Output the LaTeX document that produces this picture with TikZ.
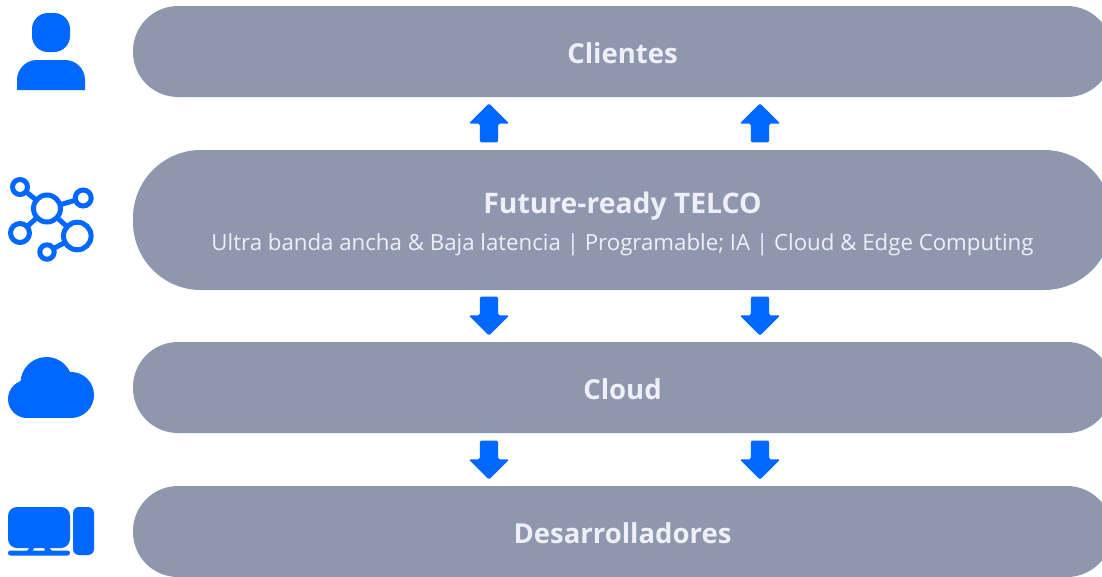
\documentclass[tikz,border=0pt]{standalone}
\usepackage{fontspec}
\setmainfont{Open Sans}
\usetikzlibrary{shapes.arrows}

\definecolor{pillgray}{HTML}{8F97AF}
\definecolor{iconblue}{HTML}{0068FF}
\definecolor{pilltext}{HTML}{EEF0F7}

\tikzset{
	pill/.style = {fill = pillgray, text = pilltext, minimum width = 979, inner sep = 0,
		font = \fontsize{27.5}{30}\selectfont\bfseries, text height = 23, text depth = 0},
	subtitle/.style = {text = pilltext, inner sep = 0, font = \fontsize{22.25}{26}\selectfont},
	blockarrow/.style = {single arrow, fill = iconblue, inner sep = 9, minimum height = 39,
		single arrow head extend = 11, single arrow tip angle = 90, rounded corners = 1.5},
	blockup/.style = {blockarrow, shape border rotate = 90},
	blockdown/.style = {blockarrow, shape border rotate = 270},
	ring/.style = {draw = iconblue, fill = white}
}

\begin{document}
\begin{tikzpicture}[x = 1pt, y = -1pt]

	\clip (0, 0) rectangle (1102, 576);

	% Layers

	\node [pill, minimum height = 91, rounded corners = 45] (clientes) at (622.5, 51.5) {Clientes};
	\node [pill, minimum height = 140, rounded corners = 68] (telco) at (622.5, 220) {};
	\node [pill, minimum height = 91, rounded corners = 45] (cloud) at (622.5, 387.5) {Cloud};
	\node [pill, minimum height = 91, rounded corners = 45] (devs) at (622.5, 531.5) {Desarrolladores};

	\node [pill, fill = none, minimum width = 0, font = \fontsize{28.3}{30}\selectfont\bfseries] (telcotitle) at (622.5, 202) {Future-ready TELCO};
	\node [subtitle] (telcosub) at (622.5, 244.5) {Ultra banda ancha \& Baja latencia | Programable; IA | Cloud \& Edge Computing};


	% Arrows between layers

	\foreach \x in {489, 760} {
		\node [blockup] (up\x) at (\x, 127.5) {};
		\node [blockdown] (mid\x) at (\x, 311.5) {};
		\node [blockdown] (low\x) at (\x, 455.5) {};
	}


	% User icon

	\fill [iconblue, rounded corners = 16] (32, 13) rectangle (70, 52);
	\fill [iconblue] (17, 90) [rounded corners = 20] -- (17, 60) -- (85, 60) [sharp corners] -- (85, 90) -- cycle;


	% Network icon

	\begin{scope}[line width = 5]
		\draw [iconblue] (47, 208.5) -- (20, 187);
		\draw [iconblue] (47, 208.5) -- (83.2, 198);
		\draw [iconblue] (47, 208.5) -- (20, 233);
		\draw [iconblue] (47, 208.5) -- (77.3, 236);
		\draw [iconblue] (77.3, 236) -- (47, 252);
		\draw [ring] (47, 208.5) circle (13.5);
		\draw [ring] (20, 187) circle (7.5);
		\draw [ring] (83.2, 198) circle (8);
		\draw [ring] (20, 233) circle (9.5);
		\draw [ring] (77.3, 236) circle (13.8);
		\draw [ring] (47, 252) circle (7.2);
	\end{scope}


	% Cloud icon

	\fill [iconblue] (27, 399) circle (19);
	\fill [iconblue] (46.5, 383) circle (26);
	\fill [iconblue] (71, 395) circle (23);
	\fill [iconblue] (27, 395) rectangle (71, 418);


	% Desktop icon

	\fill [iconblue, rounded corners = 9] (8, 507) rectangle (70, 548);
	\fill [iconblue, rounded corners = 6] (73, 507) rectangle (94, 555);
	\fill [iconblue, rounded corners = 2.5] (8, 550.5) rectangle (70, 555.5);
	\fill [iconblue] (27, 551) -- (30, 547) -- (34, 547) -- (33, 551) -- cycle;
	\fill [iconblue] (52, 551) -- (49, 547) -- (44, 547) -- (45, 551) -- cycle;

\end{tikzpicture}
\end{document}
